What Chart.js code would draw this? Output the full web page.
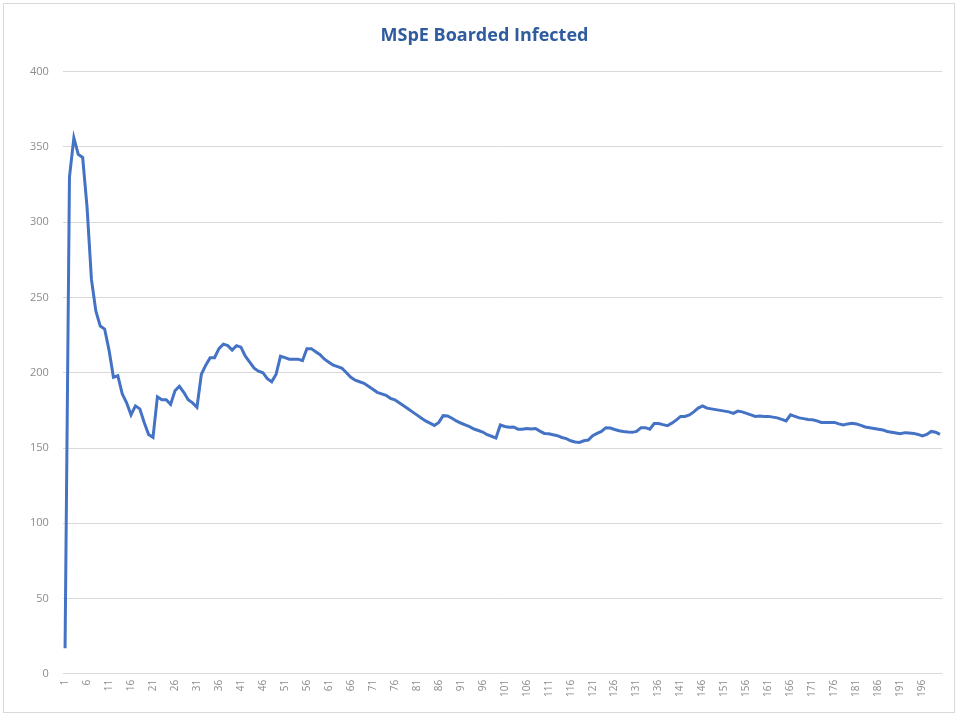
<!DOCTYPE html>
<html>
<head>
<meta charset="utf-8">
<script src="https://cdn.jsdelivr.net/npm/chart.js@4/dist/chart.umd.min.js"></script>
<style>
    html, body { margin: 0; padding: 0; background: #ffffff; }
    #wrap { position: relative; width: 958px; height: 716px; }
    #frame {
        position: absolute; left: 3px; top: 3px; right: 3px; bottom: 3px;
        border: 1px solid #d9d9d9; pointer-events: none;
    }
</style>
</head>
<body>
<div id="wrap">
    <canvas id="boardedChart" width="958" height="716"></canvas>
    <div id="frame"></div>
</div>
<script>
// ============================================================================
// DATA
// ============================================================================

const chartTitle = 'MSpE Boarded Infected';

// Boarded infected count per day
const boardedInfected = [
    17, 330, 356, 345, 343, 310, 262, 241, 231, 229,
    215, 197, 198, 186, 180, 172, 178, 176, 167, 159,
    157, 184, 182, 182, 179, 188, 191, 187, 182, 180,
    177, 199, 205, 210, 210, 216, 219, 218, 215, 218,
    217, 211, 207, 203, 201, 200, 196, 194, 199, 211,
    210, 209, 209, 209, 208, 216, 216, 214, 212, 209,
    207, 205, 204, 203, 200, 197, 195, 194, 193, 191,
    189, 187, 186, 185, 183, 182, 180, 178, 176, 174,
    172, 170, 168, 166.5, 165, 167, 171.5, 171.3, 169.8, 168,
    166.6, 165.4, 164.2, 162.6, 161.6, 160.6, 158.8, 157.8, 156.6, 165.3,
    164.3, 163.8, 164, 162.5, 162.5, 163, 162.7, 163, 161.2, 159.7,
    159.5, 158.8, 158.2, 157, 156.2, 154.8, 154, 153.7, 154.8, 155.3,
    158.2, 159.7, 161, 163.5, 163.3, 162.3, 161.5, 161, 160.6, 160.4,
    161, 163.5, 163.5, 162.5, 166.3, 166.3, 165.5, 164.8, 166.5, 168.5,
    171, 171, 172, 174, 176.5, 178, 176.5, 176, 175.5, 175,
    174.5, 174, 173, 174.5, 174, 173, 172, 171, 171.3, 171,
    171, 170.5, 170, 169, 168, 172, 171, 170, 169.5, 169,
    168.7, 168, 167, 167, 167, 167, 166, 165.3, 166, 166.5,
    166, 165, 164, 163.5, 163, 162.5, 162, 161, 160.5, 160,
    159.5, 160.2, 160, 159.7, 159, 158, 159, 161, 160.5, 159
];

// Day numbers on the category axis
const dayLabels = boardedInfected.map((v, i) => String(i + 1));

const yMin = 0;
const yMax = 400;
const yStep = 50;
const labelEvery = 5;

// ============================================================================
// CHART
// ============================================================================

const axisGrey = '#8c8c8c';
const gridGrey = '#d9d9d9';

new Chart(document.getElementById('boardedChart'), {
    type: 'line',
    data: {
        labels: dayLabels,
        datasets: [{
            label: chartTitle,
            data: boardedInfected,
            borderColor: '#4472C4',
            borderWidth: 3,
            pointRadius: 0,
            tension: 0,
            fill: false
        }]
    },
    options: {
        responsive: false,
        animation: false,
        layout: {
            padding: { left: 16, right: 5, top: 10, bottom: 13 }
        },
        plugins: {
            legend: { display: false },
            tooltip: { enabled: false },
            title: {
                display: true,
                text: chartTitle,
                color: '#2E5C9E',
                font: { family: "'Open Sans', sans-serif", size: 18, weight: 'bold' },
                padding: { top: 15, bottom: 25 }
            }
        },
        scales: {
            x: {
                type: 'category',
                offset: true,
                grid: { display: false, drawTicks: false },
                border: { display: false },
                ticks: {
                    autoSkip: false,
                    minRotation: 90,
                    maxRotation: 90,
                    padding: 6,
                    color: axisGrey,
                    font: { family: "'Open Sans', sans-serif", size: 10 },
                    callback: function (value, index) {
                        return index % labelEvery === 0 ? this.getLabelForValue(value) : '';
                    }
                }
            },
            y: {
                min: yMin,
                max: yMax,
                grid: { color: gridGrey, lineWidth: 1, drawTicks: false },
                border: { display: false },
                ticks: {
                    stepSize: yStep,
                    padding: 14,
                    color: axisGrey,
                    font: { family: "'Open Sans', sans-serif", size: 11 }
                }
            }
        }
    }
});
</script>
</body>
</html>
